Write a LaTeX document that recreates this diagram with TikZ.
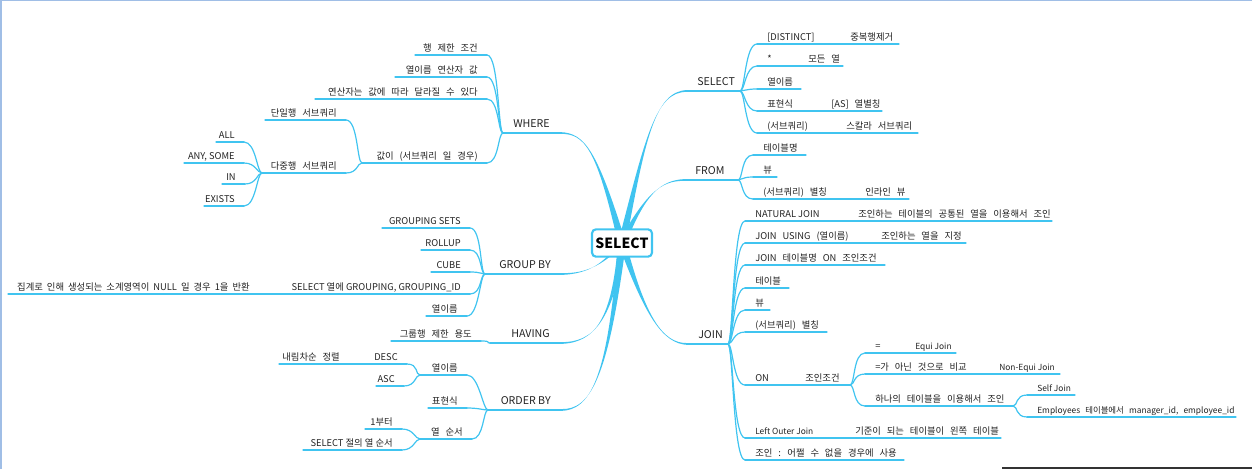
\documentclass[tikz,border=0pt]{standalone}
\usepackage{fontspec}
\setmainfont{Noto Sans CJK KR}
\usetikzlibrary{backgrounds}
\definecolor{mapblue}{RGB}{64,196,240}
\definecolor{ink}{RGB}{35,35,35}
\definecolor{frameblue}{RGB}{160,190,230}

\newcommand\wordgap[1]{\spaceskip #1\relax}
\newcommand\ritem[6][]{%
  \coordinate (#2-a) at (#3,#5); \coordinate (#2-b) at (#4,#5);
  \draw[twig] (#2-a) -- (#2-b);
  \node[leaf,#1,anchor=base west] (#2) at ([xshift=7.5pt,yshift=3pt]#2-a) {#6};}
\newcommand\litem[6][]{%
  \coordinate (#2-a) at (#3,#5); \coordinate (#2-b) at (#4,#5);
  \draw[twig] (#2-a) -- (#2-b);
  \node[leaf,#1,anchor=base east] (#2) at ([xshift=-6.75pt,yshift=3pt]#2-b) {#6};}
\newcommand\rtopic[5]{%
  \coordinate (#1-a) at (#2,#4); \coordinate (#1-b) at (#3,#4);
  \draw[limb] (#1-a) -- (#1-b);
  \node[topic,anchor=base west] (#1) at ([xshift=7.5pt,yshift=4pt]#1-a) {#5};}
\newcommand\ltopic[5]{%
  \coordinate (#1-a) at (#2,#4); \coordinate (#1-b) at (#3,#4);
  \draw[limb] (#1-a) -- (#1-b);
  \node[topic,anchor=base east] (#1) at ([xshift=-7.5pt,yshift=4pt]#1-b) {#5};}
\newcommand\trunk[3]{%
  \fill[trunk] ([xshift=-3pt]root.center) .. controls #2 and #3 .. ([yshift=-0.7pt]#1)
    -- ([yshift=0.7pt]#1) .. controls #3 and #2 .. ([xshift=3pt]root.center) -- cycle;}

\begin{document}
\begin{tikzpicture}[x=0.75pt,y=-0.75pt,
  leaf/.style={inner sep=0,font={\fontsize{7}{8}\selectfont\wordgap{4.4pt}},text=ink},
  lat/.style={font={\fontsize{7}{8}\selectfont}},
  mid/.style={font={\fontsize{7}{8}\selectfont\wordgap{3pt}}},
  small/.style={font={\fontsize{6.3}{7}\selectfont}},
  smallkr/.style={font={\fontsize{6.3}{7}\selectfont\wordgap{3.8pt}}},
  topic/.style={inner sep=0,font={\fontsize{8}{9}\selectfont},text=ink},
  twig/.style={draw=mapblue,line width=0.9pt,line cap=round},
  limb/.style={draw=mapblue,line width=1.4pt,line cap=round},
  trunk/.style={fill=mapblue},
  rfan/.style={to path={.. controls +(5,0) and +(-12,0) .. (\tikztotarget)}},
  lfan/.style={to path={.. controls +(-5,0) and +(12,0) .. (\tikztotarget)}}]
\useasboundingbox (0,0) rectangle (1252,469);
\draw[frameblue,line width=0.8pt] (0,0.5) -- (1252,0.5);
\draw[frameblue,line width=1.5pt] (1,0) -- (1,469);
\draw[black!80,line width=0.8pt] (1002,468) -- (1252,468);

\node[draw=mapblue,line width=1.6pt,rounded corners=3pt,fill=white,
  minimum width=45pt,minimum height=20.5pt,inner sep=0,text=black,
  font=\fontsize{10.5}{12}\selectfont\bfseries] (root) at (622,243) {SELECT};

\rtopic{sel}{687}{740}{91}{SELECT}
\rtopic{frm}{685}{738}{180}{FROM}
\rtopic{join}{688}{728}{344}{JOIN}
\ltopic{where}{503}{560}{133}{WHERE}
\ltopic{grp}{485}{561}{274}{GROUP BY}
\ltopic{hav}{490}{560}{343}{HAVING}
\ltopic{ord}{488}{561}{410}{ORDER BY}

\begin{scope}[on background layer]
\trunk{sel-a}{(645,140)}{(655,91)}
\trunk{frm-a}{(645,195)}{(660,180)}
\trunk{join-a}{(645,315)}{(662,344)}
\trunk{where-b}{(597,150)}{(585,133)}
\trunk{grp-b}{(605,262)}{(590,274)}
\trunk{hav-b}{(612,320)}{(595,343)}
\trunk{ord-b}{(608,380)}{(590,410)}
\end{scope}

\ritem{s1}{757}{840}{44}{[DISTINCT]}
\ritem{s1x}{840}{899}{44}{중복행제거}
\ritem{s2}{757}{798}{66}{*}
\ritem{s2x}{798}{843}{66}{모든 열}
\ritem{s3}{757}{801}{89}{열이름}
\ritem{s4}{757}{821}{111}{표현식}
\ritem{s4x}{821}{882}{111}{[AS] 열별칭}
\ritem{s5}{757}{836}{133}{(서브쿼리)}
\ritem{s5x}{836}{918}{133}{스칼라 서브쿼리}
\foreach \c in {s1,s2,s3,s4,s5} \draw[twig] (sel-b) to[rfan] (\c-a);

\ritem{f1}{753}{806}{155}{테이블명}
\ritem{f2}{753}{777}{177}{뷰}
\ritem{f3}{753}{855}{199}{(서브쿼리) 별칭}
\ritem{f3x}{855}{909}{199}{인라인 뷰}
\foreach \c in {f1,f2,f3} \draw[twig] (frm-b) to[rfan] (\c-a);

\ritem[lat]{j1}{745}{848}{221}{NATURAL JOIN}
\ritem{j1x}{848}{1052}{221}{조인하는 테이블의 공통된 열을 이용해서 조인}
\ritem{j2}{745}{871}{243}{JOIN USING (열이름)}
\ritem{j2x}{871}{966}{243}{조인하는 열을 지정}
\ritem{j3}{745}{885}{265}{JOIN 테이블명 ON 조인조건}
\ritem{j4}{745}{789}{288}{테이블}
\ritem{j5}{745}{770}{310}{뷰}
\ritem{j6}{745}{827}{332}{(서브쿼리) 별칭}
\ritem{j7}{745}{795}{385}{ON}
\ritem{j7x}{795}{850}{385}{조인조건}
\ritem[small]{j8}{745}{845}{438}{Left Outer Join}
\ritem{j8x}{845}{1001}{438}{기준이 되는 테이블이 왼쪽 테이블}
\ritem{j9}{745}{904}{460}{조인 : 어쩔 수 없을 경우에 사용}
\foreach \c in {j1,j2,j3,j4,j5,j6,j7,j8,j9} \draw[twig] (join-b) to[rfan] (\c-a);

\ritem{o1}{865}{905}{353}{=}
\ritem[small]{o1x}{905}{956}{353}{Equi Join}
\ritem{o2}{865}{989}{374}{=가 아닌 것으로 비교}
\ritem[small]{o2x}{989}{1060}{374}{Non-Equi Join}
\ritem{o3}{865}{1013}{406}{하나의 테이블을 이용해서 조인}
\foreach \c in {o1,o2,o3} \draw[twig] (j7x-b) to[rfan] (\c-a);
\ritem[small]{e1}{1027}{1075}{395}{Self Join}
\ritem[smallkr]{e2}{1027}{1236}{417}{Employees 테이블에서 manager\_id, employee\_id}
\foreach \c in {e1,e2} \draw[twig] (o3-b) to[rfan] (\c-a);

\litem{w1}{415}{487}{55}{행 제한 조건}
\litem{w2}{395}{487}{77}{열이름 연산자 값}
\litem{w3}{315}{487}{99}{연산자는 값에 따라 달라질 수 있다}
\litem{w4}{362}{487}{163}{값이 (서브쿼리 일 경우)}
\foreach \c in {w1,w2,w3,w4} \draw[twig] (where-a) to[lfan] (\c-b);
\litem{q1}{265}{346}{120}{단일행 서브쿼리}
\litem{q2}{262}{346}{173}{다중행 서브쿼리}
\foreach \c in {q1,q2} \draw[twig] (w4-a) to[lfan] (\c-b);
\litem{m1}{216}{244}{142}{ALL}
\litem[lat]{m2}{184}{244}{163}{ANY, SOME}
\litem{m3}{222}{245}{184}{IN}
\litem{m4}{204}{244}{206}{EXISTS}
\foreach \c in {m1,m2,m3,m4} \draw[twig] (q2-a) to[lfan] (\c-b);

\litem[lat]{g1}{382}{470}{228}{GROUPING SETS}
\litem{g2}{421}{470}{250}{ROLLUP}
\litem{g3}{431}{470}{272}{CUBE}
\litem[lat]{g4}{270}{470}{294}{SELECT 열에 GROUPING, GROUPING\_ID}
\litem{g5}{426}{467}{316}{열이름}
\foreach \c in {g1,g2,g3,g4,g5} \draw[twig] (grp-a) to[lfan] (\c-b);
\litem[mid]{g4x}{8}{259}{294}{집계로 인해 생성되는 소계영역이 NULL 일 경우 1을 반환}
\draw[twig] (g4-a) -- (g4x-b);

\litem{h1}{391}{481}{341}{그룹행 제한 용도}
\draw[twig] (hav-a) to[lfan] (h1-b);

\litem{r1}{420}{467}{375}{열이름}
\litem{r2}{428}{467}{408}{표현식}
\litem{r3}{420}{472}{439}{열 순서}
\foreach \c in {r1,r2,r3} \draw[twig] (ord-a) to[lfan] (\c-b);
\litem{d1}{370}{407}{364}{DESC}
\litem{d1x}{279}{349}{364}{내림차순 정렬}
\litem{d2}{376}{404}{386}{ASC}
\foreach \c in {d1,d2} \draw[twig] (r1-a) to[lfan] (\c-b);
\draw[twig] (d1-a) -- (d1x-b);
\litem{t1}{365}{402}{429}{1부터}
\litem[lat]{t2}{303}{402}{450}{SELECT 절의 열 순서}
\foreach \c in {t1,t2} \draw[twig] (r3-a) to[lfan] (\c-b);
\end{tikzpicture}
\end{document}
